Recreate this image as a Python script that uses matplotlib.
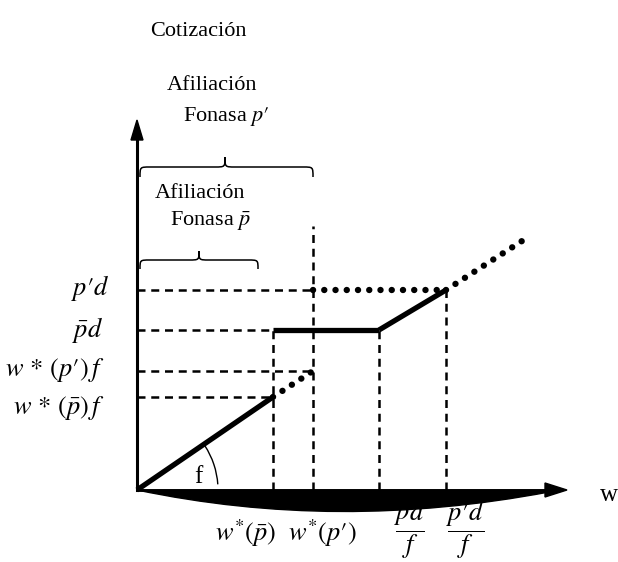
import matplotlib
matplotlib.use("Agg")
import matplotlib.pyplot as plt
from matplotlib.path import Path
from matplotlib.patches import PathPatch, Arc, Polygon

plt.rcParams['font.family'] = ['Liberation Serif', 'DejaVu Serif']
plt.rcParams['mathtext.fontset'] = 'stix'

# positions on the w axis (wages)
w_pbar = 136
w_pprime = 176
pbar_d_f = 242
pprime_d_f = 309
w_end = 385

# levels on the cotizacion axis
pprime_d = 200
pbar_d = 160
w_pprime_f = 119
w_pbar_f = 93
top_end = 249

y_labels = [r"$p\prime d$", r"$\bar{p}d$", r"$w\,*\,(p\prime)\,f$", r"$w\,*\,(\bar{p})\,f$"]
y_levels = [pprime_d, pbar_d, w_pprime_f, w_pbar_f]
x_labels = [r"$w^{*}(\bar{p})$", r"$w^{*}(p\prime)$", r"$\dfrac{\bar{p}d}{f}$", r"$\dfrac{p\prime d}{f}$"]

fig = plt.figure(figsize=(6.18, 5.62), dpi=100)
ax = fig.add_axes([0, 0, 1, 1])
ax.set_xlim(-137, 481)
ax.set_ylim(-72, 490)
ax.axis('off')

dash = dict(color='black', lw=1.8, linestyle=(0, (3.2, 2.3)))
dots = dict(color='black', lw=4.6, linestyle=(0, (0.01, 1.75)), dash_capstyle='round')
solid = dict(color='black', lw=3.8, solid_capstyle='butt')

# dashed guides
ax.plot([0, w_pprime], [pprime_d, pprime_d], **dash)
ax.plot([0, w_pbar], [pbar_d, pbar_d], **dash)
ax.plot([0, w_pprime], [w_pprime_f, w_pprime_f], **dash)
ax.plot([0, w_pbar], [w_pbar_f, w_pbar_f], **dash)
ax.plot([w_pbar, w_pbar], [0, pbar_d], **dash)
ax.plot([w_pprime, w_pprime], [0, 264], **dash)
ax.plot([pbar_d_f, pbar_d_f], [0, pbar_d], **dash)
ax.plot([pprime_d_f, pprime_d_f], [0, pprime_d], **dash)

# contribution schedule
ax.plot([0, w_pbar], [0, w_pbar_f], **solid)
ax.plot([w_pbar, w_pprime], [w_pbar_f, w_pprime_f], **dots)
ax.plot([w_pbar, pbar_d_f], [pbar_d, pbar_d], **solid)
ax.plot([pbar_d_f, pprime_d_f], [pbar_d, pprime_d], **solid)
ax.plot([w_pprime, pprime_d_f], [pprime_d, pprime_d], **dots)
ax.plot([pprime_d_f, w_end], [pprime_d, top_end], **dots)

# axes
ax.plot([0, 0], [0, 352], color='black', lw=2.2)
ax.add_patch(Polygon([[-6, 350], [0, 370], [6, 350]], closed=True, color='black'))
crescent = Path([(0, 0), (200, -42), (412, -2), (412, 0), (0, 0)],
                [Path.MOVETO, Path.CURVE3, Path.CURVE3, Path.LINETO, Path.CLOSEPOLY])
ax.add_patch(PathPatch(crescent, facecolor='black', edgecolor='black', lw=1, zorder=5))
ax.plot([0, 412], [0, 0], color='black', lw=2, zorder=5)
ax.add_patch(Polygon([[408, 7], [430, 0], [408, -7]], closed=True, color='black', zorder=5))
ax.add_patch(Arc((0, 0), 162, 162, theta1=4, theta2=33, color='black', lw=1))


def brace(x0, x1, xm, y, h):
    r = 10
    verts = [(x0, y - h), (x0, y), (x0, y), (x0 + r, y),
             (xm - r, y), (xm, y), (xm, y), (xm, y + h),
             (xm, y), (xm, y), (xm + r, y),
             (x1 - r, y), (x1, y), (x1, y), (x1, y - h)]
    codes = [Path.MOVETO, Path.CURVE4, Path.CURVE4, Path.CURVE4,
             Path.LINETO, Path.CURVE4, Path.CURVE4, Path.CURVE4,
             Path.CURVE4, Path.CURVE4, Path.CURVE4,
             Path.LINETO, Path.CURVE4, Path.CURVE4, Path.CURVE4]
    ax.add_patch(PathPatch(Path(verts, codes), facecolor='none', edgecolor='black', lw=1.1))


brace(3, 176, 88, 323, 10)
brace(3, 121, 62, 230, 9)

# texts
ax.text(13, 458, "Cotización", fontsize=16, va='center', ha='left')
ax.text(30, 404, "Afiliación", fontsize=16, va='center', ha='left')
ax.text(46, 374, r"Fonasa $p\prime$", fontsize=16, va='center', ha='left')
ax.text(18, 296, "Afiliación", fontsize=16, va='center', ha='left')
ax.text(33, 269, r"Fonasa $\bar{p}$", fontsize=16, va='center', ha='left')
ax.text(463, -5, "w", fontsize=18, va='center', ha='left')
ax.text(61, 13, "f", fontsize=18, va='center', ha='center')

y_text_x = [-27, -34, -32, -32]
y_text_y = [202, 160, 120, 82]
for lab, tx, ty in zip(y_labels, y_text_x, y_text_y):
    ax.text(tx, ty, lab, fontsize=19, va='center', ha='right')

x_text_x = [109, 185, 273, 328]
x_text_y = [-43, -43, -40, -40]
for lab, tx, ty in zip(x_labels, x_text_x, x_text_y):
    ax.text(tx, ty, lab, fontsize=19, va='center', ha='center', zorder=1)

fig.savefig("out.png", dpi=100, facecolor='white')
